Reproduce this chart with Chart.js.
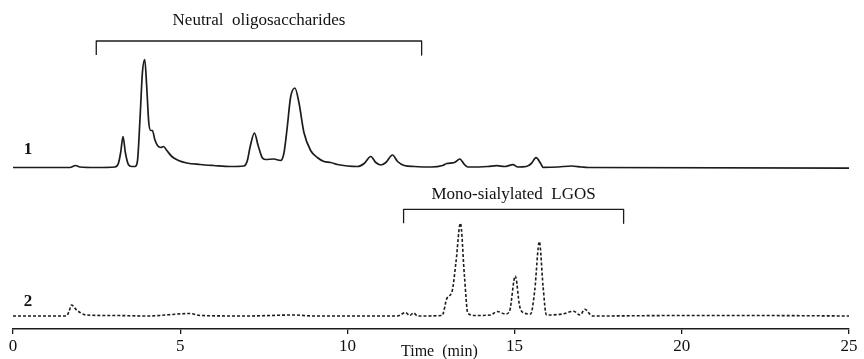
<!DOCTYPE html>
<html>
<head>
<meta charset="utf-8">
<script src="https://cdn.jsdelivr.net/npm/chart.js@4/dist/chart.umd.min.js"></script>
<style>
  html, body { margin: 0; padding: 0; background: #fff; }
  #wrap { width: 864px; height: 359px; }
</style>
</head>
<body>
<div id="wrap"><canvas id="chart"></canvas></div>
<script>
// retention times (min) and detector signal for trace 1 (solid)
const time1 = [0, 1.7, 1.87, 2.0, 2.5, 3.05, 3.15, 3.22, 3.29, 3.36, 3.45, 3.55, 3.65, 3.72, 3.8, 3.87, 3.94, 4.0, 4.06, 4.12, 4.17, 4.24, 4.32, 4.42, 4.5, 4.6, 4.75, 4.95, 5.2, 5.6, 6.0, 6.5, 6.9, 7.0, 7.1, 7.22, 7.33, 7.45, 7.55, 7.8, 8.0, 8.1, 8.2, 8.3, 8.43, 8.55, 8.7, 8.9, 9.1, 9.3, 9.5, 9.7, 10.0, 10.3, 10.5, 10.7, 10.85, 11.0, 11.15, 11.35, 11.5, 11.7, 12.0, 12.5, 12.85, 12.97, 13.2, 13.36, 13.5, 13.6, 14.2, 14.47, 14.7, 14.95, 15.1, 15.35, 15.5, 15.64, 15.78, 15.85, 16.3, 16.7, 17.0, 17.2, 25];
const signal1 = [0, 0, 2, 0.5, 0, 0.5, 4, 15, 31, 15, 3, 1, 1, 6, 50, 95, 108, 80, 45, 37, 37, 28, 22, 20, 21, 17, 11, 7, 4.5, 3, 2, 1, 1.5, 6, 22, 34.5, 22, 10, 8, 8.5, 7, 14, 40, 70, 79.5, 65, 35, 17, 10, 6, 5, 3, 1.5, 1, 4, 11, 5, 2.5, 5, 12.5, 6, 2, 1, 0.5, 2, 4, 5, 8.5, 3, 0.5, 1, 1.8, 1, 2.8, 0.5, 1, 4, 9.8, 4, 0.2, 0.5, 1.5, 0.5, 0, -0.6];

// retention times (min) and detector signal for trace 2 (dashed)
const time2 = [0, 1.6, 1.68, 1.75, 1.9, 2.2, 3.0, 4.0, 5.3, 5.6, 7.0, 8.4, 9.0, 11.5, 11.74, 11.86, 11.98, 12.1, 12.83, 12.98, 13.13, 13.25, 13.38, 13.5, 13.6, 13.8, 14.28, 14.48, 14.73, 14.85, 15.02, 15.15, 15.24, 15.48, 15.6, 15.74, 15.85, 15.95, 16.43, 16.76, 16.96, 17.1, 17.33, 20, 22, 25];
const signal2 = [0, 0, 5, 11, 6, 1, 0.5, 0, 2.5, 0.5, 0, 1, 0, 0, 3.5, 0.5, 3, 0, 0.5, 18, 24.5, 55, 92.7, 40, 3, 0.5, 1, 4.5, 2, 5, 40, 10, 3.7, 2, 25, 74.3, 30, 1, 2, 4.7, 1, 6.7, 0, 0.5, 0.5, 0];

const xTicks = [0, 5, 10, 15, 20, 25];

// fraction brackets (min)
const bracketNames = ["Neutral  oligosaccharides", "Mono-sialylated  LGOS"];
const bracketStart = [2.49, 11.68];
const bracketEnd = [12.22, 18.26];

const traceNames = ["1", "2"];

// drawing offsets (not data)
const OFFSET1 = 161.5;
const OFFSET2 = 13;
const bracketTop = [288, 119.7];
const bracketTip = 14;
const bracketTextGap = [20, 14.5];
const INK = "#1c1c1c";
const SERIF = "'Liberation Serif', 'Times New Roman', serif";

const trace1 = time1.map((t, i) => ({ x: t, y: signal1[i] + OFFSET1 }));
const trace2 = time2.map((t, i) => ({ x: t, y: signal2[i] + OFFSET2 }));

const bracketSets = bracketStart.map((s, i) => ({
  data: [
    { x: s, y: bracketTop[i] - bracketTip },
    { x: s, y: bracketTop[i] },
    { x: bracketEnd[i], y: bracketTop[i] },
    { x: bracketEnd[i], y: bracketTop[i] - bracketTip }
  ],
  borderColor: INK,
  borderWidth: 1.3,
  pointRadius: 0,
  tension: 0,
  borderJoinStyle: "round"
}));

// texts: bracket titles, trace numbers, axis title
const textPlugin = {
  id: "texts",
  afterDatasetsDraw(chart) {
    const { ctx, scales: { x, y }, chartArea } = chart;
    ctx.save();
    ctx.fillStyle = "#111";
    ctx.textAlign = "center";
    ctx.textBaseline = "middle";
    ctx.font = "17px " + SERIF;
    bracketNames.forEach((name, i) => {
      const cx = x.getPixelForValue((bracketStart[i] + bracketEnd[i]) / 2);
      const cy = y.getPixelForValue(bracketTop[i] + bracketTextGap[i]);
      ctx.fillText(name, cx, cy);
    });
    ctx.font = "bold 17px " + SERIF;
    ctx.fillText(traceNames[0], x.getPixelForValue(0.45), y.getPixelForValue(OFFSET1 + 18));
    ctx.fillText(traceNames[1], x.getPixelForValue(0.45), y.getPixelForValue(OFFSET2 + 14));
    ctx.font = "16px " + SERIF;
    ctx.fillText("Time  (min)", x.getPixelForValue(12.75), chartArea.bottom + 23);
    ctx.restore();
  }
};

new Chart(document.getElementById("chart"), {
  type: "line",
  data: {
    datasets: [
      {
        label: "1",
        data: trace1,
        borderColor: INK,
        borderWidth: 1.7,
        pointRadius: 0,
        cubicInterpolationMode: "monotone"
      },
      {
        label: "2",
        data: trace2,
        borderColor: INK,
        borderWidth: 1.6,
        borderDash: [3, 2],
        pointRadius: 0,
        cubicInterpolationMode: "monotone"
      },
      ...bracketSets
    ]
  },
  options: {
    responsive: true,
    maintainAspectRatio: false,
    animation: false,
    layout: { padding: { left: 13, right: 15, top: 0, bottom: 0 } },
    plugins: {
      legend: { display: false },
      tooltip: { enabled: false }
    },
    scales: {
      x: {
        type: "linear",
        min: 0,
        max: 25,
        afterBuildTicks: axis => { axis.ticks = xTicks.map(v => ({ value: v })); },
        grid: { drawOnChartArea: false, drawTicks: true, tickLength: 5, color: INK, lineWidth: 1.3 },
        border: { display: true, color: INK, width: 1.5 },
        ticks: { color: "#111", padding: 4, maxRotation: 0, font: { family: SERIF, size: 17, lineHeight: 1.0 } }
      },
      y: {
        display: false,
        min: 0,
        max: 329
      }
    }
  },
  plugins: [textPlugin]
});
</script>
</body>
</html>
